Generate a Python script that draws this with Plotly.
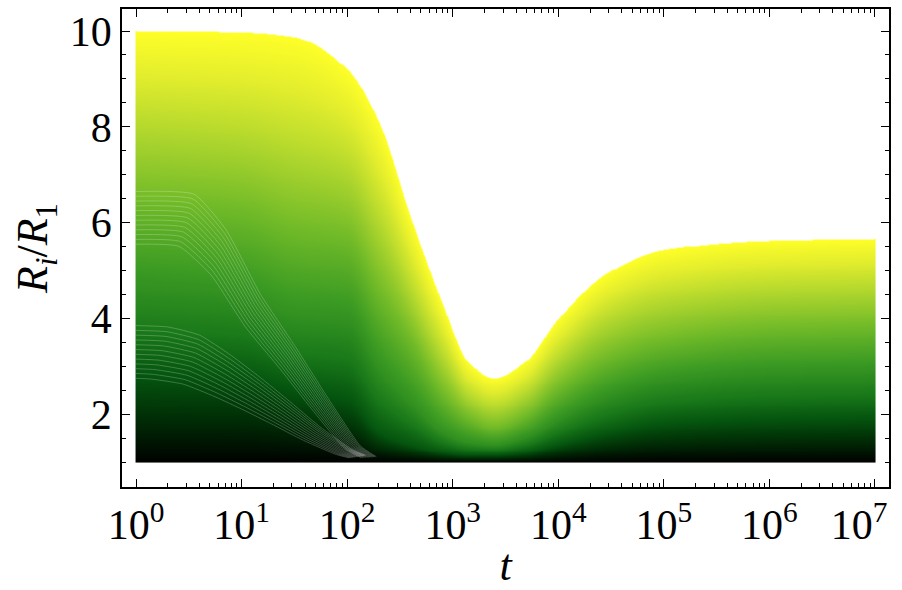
import numpy as np
import plotly.graph_objects as go

# ---- data ----
# sample times (log-spaced knots)
t_knots = [1, 10, 31.6, 100, 200, 400, 800, 1400, 2500, 5000, 1e4, 3e4, 1e5, 1e6, 1e7]
# family index fraction (0 = i=1 curve, 1 = last curve)
frac = [0.0, 0.2, 0.4, 0.6, 0.8, 1.0]
# R_i/R_1 of guide members of the family at t_knots
r_f00 = [1.0, 1.0, 1.0, 1.0, 1.0, 1.0, 1.0, 1.0, 1.0, 1.0, 1.0, 1.0, 1.0, 1.0, 1.0]
r_f20 = [2.8, 2.75, 2.5, 2.3, 1.6, 1.35, 1.2, 1.15, 1.15, 1.2, 1.35, 1.6, 1.8, 1.9, 1.93]
r_f40 = [4.6, 4.4, 4.0, 3.9, 2.9, 2.2, 1.6, 1.4, 1.35, 1.5, 1.85, 2.35, 2.65, 2.82, 2.86]
r_f60 = [6.4, 6.2, 5.8, 5.6, 4.5, 3.5, 2.4, 1.9, 1.7, 1.95, 2.5, 3.15, 3.5, 3.75, 3.8]
r_f80 = [8.2, 8.0, 7.7, 7.3, 6.2, 4.7, 3.3, 2.45, 2.2, 2.5, 3.2, 4.05, 4.45, 4.68, 4.73]
r_f100 = [10.0, 9.97, 9.87, 9.2, 8.1, 6.1, 4.3, 3.08, 2.75, 3.1, 3.97, 4.95, 5.42, 5.62, 5.66]

# sparse members (visible as thin light streaks in the lower-left)
lower_t = [1, 2.0, 4.0, 8.0, 15, 27, 55, 113, 150]
lower_mult = [1.0, 0.99, 0.93, 0.78, 0.62, 0.46, 0.26, 0.09, 0.05]
lower_r0 = [2.75, 2.85, 2.95, 3.05, 3.15, 3.25, 3.35, 3.45, 3.55, 3.65, 3.75, 3.85]
lower_tau = [0.70, 0.73, 0.76, 0.79, 0.82, 0.85, 0.88, 0.91, 0.94, 0.96, 0.98, 1.0]
upper_t = [1, 3.0, 6.0, 12.8, 27, 55, 113, 160]
upper_mult = [1.0, 0.99, 0.86, 0.62, 0.43, 0.24, 0.06, 0.02]
upper_r0 = [5.55, 5.65, 5.75, 5.85, 5.95, 6.05, 6.15, 6.25, 6.35, 6.45, 6.55, 6.65]
upper_tau = [0.85, 0.88, 0.91, 0.94, 0.97, 1.0, 1.03, 1.06, 1.09, 1.12, 1.15, 1.18]

x_tick_vals = [1, 10, 100, 1e3, 1e4, 1e5, 1e6, 1e7]
x_tick_text = ["10<sup>0</sup>", "10<sup>1</sup>", "10<sup>2</sup>", "10<sup>3</sup>",
               "10<sup>4</sup>", "10<sup>5</sup>", "10<sup>6</sup>", "10<sup>7</sup>\u00a0\u00a0\u00a0"]
y_tick_vals = [2, 4, 6, 8, 10]

# AvocadoColors-like gradient
avocado = [[0.0, "rgb(0,2,0)"], [0.1, "rgb(0,45,5)"], [0.2, "rgb(5,85,15)"],
           [0.3, "rgb(25,120,25)"], [0.45, "rgb(60,155,35)"], [0.6, "rgb(110,185,40)"],
           [0.75, "rgb(170,212,45)"], [0.9, "rgb(228,238,45)"], [1.0, "rgb(255,255,40)"]]

guides = np.array([r_f00, r_f20, r_f40, r_f60, r_f80, r_f100])


def pchip(xk, yk, x):
    xk = np.asarray(xk, float); yk = np.asarray(yk, float)
    h = np.diff(xk); d = np.diff(yk) / h
    n = len(xk); m = np.zeros(n)
    for k in range(1, n - 1):
        if d[k - 1] * d[k] > 0:
            w1 = 2 * h[k] + h[k - 1]; w2 = h[k] + 2 * h[k - 1]
            m[k] = (w1 + w2) / (w1 / d[k - 1] + w2 / d[k])
    m[0] = d[0]; m[-1] = d[-1]
    idx = np.clip(np.searchsorted(xk, x) - 1, 0, n - 2)
    hh = h[idx]; s = (x - xk[idx]) / hh
    h00 = 2 * s**3 - 3 * s**2 + 1; h10 = s**3 - 2 * s**2 + s
    h01 = -2 * s**3 + 3 * s**2; h11 = s**3 - s**2
    return h00 * yk[idx] + h10 * hh * m[idx] + h01 * yk[idx + 1] + h11 * hh * m[idx + 1]


lx_knots = np.log10(t_knots)
lx = np.linspace(0, 7, 741)
tx = 10 ** lx
yy = np.linspace(1.0, 10.0, 451)
g = np.array([pchip(lx_knots, gk, lx) for gk in guides])  # (nf, nx)
z = np.full((len(yy), len(lx)), np.nan)
for j in range(len(lx)):
    col = g[:, j]
    f = np.interp(yy, col, frac)
    f[yy > col[-1]] = np.nan
    z[:, j] = f
z = np.round(z, 3)

fig = go.Figure()
fig.add_trace(go.Heatmap(x=tx, y=yy, z=z, colorscale=avocado, zmin=0, zmax=1,
                         showscale=False, hoverinfo="skip", zsmooth=False))

# thin light streaks of the sparse members
for r0s, taus, ts, ms in [(lower_r0, lower_tau, lower_t, lower_mult),
                          (upper_r0, upper_tau, upper_t, upper_mult)]:
    for r0, tau in zip(r0s, taus):
        xs = [ts[0]] + [tv * tau for tv in ts[1:]]
        ys = [1 + (r0 - 1) * mv for mv in ms]
        fig.add_trace(go.Scatter(x=xs, y=ys, mode="lines",
                                 line=dict(color="white", width=0.8, shape="spline", smoothing=0.5),
                                 opacity=0.28, hoverinfo="skip", showlegend=False))

font = "Liberation Serif"
fs = 42
fst = 44
fig.update_layout(
    width=902, height=590,
    margin=dict(l=122, r=13, t=9, b=103),
    paper_bgcolor="white", plot_bgcolor="white",
    showlegend=False,
    font=dict(family=font, color="black", size=fs),
)
fig.update_xaxes(
    type="log", range=[-0.133, 7.133], automargin=False, ticklabeloverflow="allow",
    tickvals=x_tick_vals, ticktext=x_tick_text,
    ticks="inside", ticklen=8, tickwidth=1, tickcolor="black",
    minor=dict(ticks="inside", ticklen=4.5, tickwidth=1, tickcolor="black",
               tickvals=[k * 10 ** n for n in range(0, 7) for k in range(2, 10)], showgrid=False),
    showline=True, linecolor="black", linewidth=1.5, mirror="ticks",
    showgrid=False, zeroline=False,
    tickfont=dict(family=font, size=fs),
    title=dict(text="<i>t</i>", font=dict(family=font, size=fst), standoff=21),
)
fig.update_yaxes(
    range=[0.48, 10.46], automargin=False, ticklabeloverflow="allow",
    tickvals=y_tick_vals,
    ticks="inside", ticklen=8, tickwidth=1, tickcolor="black",
    minor=dict(ticks="inside", ticklen=4.5, tickwidth=1, tickcolor="black", dtick=0.5, showgrid=False),
    showline=True, linecolor="black", linewidth=1.5, mirror="ticks",
    showgrid=False, zeroline=False,
    tickfont=dict(family=font, size=fs),
    title=dict(text="<i>R<sub>i</sub></i>/<i>R</i><sub>1</sub>", font=dict(family=font, size=fst), standoff=8),
)

fig.write_html("out.html")
